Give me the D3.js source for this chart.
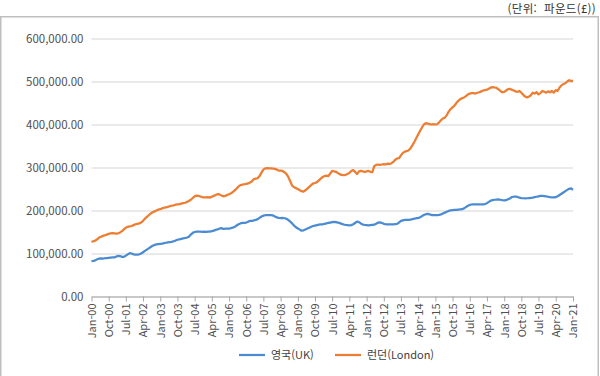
<!DOCTYPE html>
<html lang="ko">
<head>
<meta charset="UTF-8">
<title>영국 vs 런던 평균 주택가격</title>
<script src="https://d3js.org/d3.v7.min.js"></script>
<style>
  body { margin: 0; background: #fff; }
  text { font-family: "Noto Sans CJK KR", "Noto Sans", sans-serif; }
</style>
</head>
<body>
<div id="chart"></div>
<script>
// monthly values, Jan 2000 .. Jan 2021 (thousand pounds)
var ukValues = [
  82.5, 83, 84, 86.5, 88, 88.5, 88, 89, 89.5, 90, 90.5, 91,
  91, 93, 94.5, 94, 92, 92, 95, 98, 101, 100, 98, 97.5,
  97.5, 98, 100, 103, 106, 109, 112, 115, 118, 120, 121, 122,
  122.5, 123, 124, 125, 126, 126.5, 127, 128.5, 130, 132, 133, 134,
  135, 136, 137, 139, 144, 148, 150, 151, 151, 151, 150.5, 151,
  150.5, 151, 151, 152, 153, 155, 156, 158, 159, 157, 158, 158,
  158, 159, 160, 162, 165, 168, 170, 171, 171, 172, 174, 176,
  176, 177, 178, 180, 183, 186, 188, 189, 189.5, 189, 189, 188.5,
  186, 184, 183, 182.5, 183, 182, 181, 178, 174, 170, 165, 161,
  158, 155.5, 153, 154, 156, 158, 160, 162, 164, 165, 166, 167,
  167.5, 168, 169, 170, 171, 172, 173, 173.5, 173, 172, 170.5, 169,
  167.5, 166.5, 166, 165.5, 166, 168, 171, 174, 173, 170, 167.5, 166.5,
  166, 165.5, 166, 166.5, 167, 169, 172, 172.5, 171, 169, 168, 167.5,
  167.5, 168, 168, 168.5, 169, 172, 176, 177, 178, 178.5, 178, 179,
  180, 181, 182, 182.5, 184, 187, 189.5, 191.5, 192, 191, 189.5, 189,
  189, 189.5, 190, 191, 193, 195, 197, 199, 200.5, 201, 201.5, 201.5,
  202, 202.5, 203, 205, 208, 211, 213, 214, 214, 214, 214.5, 214,
  214, 214.5, 215, 217, 220, 223, 224, 225, 225.5, 226, 225, 224,
  223.5, 224, 226, 228, 231, 232, 232.5, 231.5, 230, 229, 228.5, 228,
  228.5, 229, 229.5, 230, 231, 232, 233, 234, 234, 233.5, 233, 232,
  231, 230.5, 230.5, 231, 233, 236, 239, 242, 245, 248, 250.5, 251.5,
  248
];

var londonValues = [
  127, 128.5, 130, 133, 137, 139, 141, 142.5, 144, 145.5, 147, 147.5,
  147, 146, 147, 149, 152, 156, 160, 162, 163, 164, 166, 168,
  169, 170, 172, 176, 181, 185, 189, 193, 196, 198, 200, 202,
  203, 205, 206.5, 207, 208.5, 210, 211, 212, 213.5, 214, 215, 216,
  217, 218, 220, 222, 225, 229, 233, 234.5, 234, 232.5, 231, 230.5,
  230.5, 231, 230, 232, 234, 236, 238, 237.5, 235, 233, 234, 236,
  238, 240, 243, 247, 251, 256, 259, 260, 261, 262, 263, 265,
  268, 273, 274, 275, 280, 288, 295, 298, 298.5, 298, 298, 297.5,
  297, 295, 293, 292.5, 292, 289, 285, 278, 268, 258, 254, 252,
  250, 247, 245, 244, 247, 251, 255, 259, 263, 264, 266, 270,
  274, 278, 280, 281, 280, 286, 292, 291, 290, 287, 284, 283,
  282, 283, 285, 287, 292, 294, 290, 285, 291, 292, 291, 290,
  291, 292, 290, 289, 303, 306, 307, 306, 307, 308, 307, 309,
  308, 310, 313, 318, 321, 322, 328, 334, 337, 338, 340, 345,
  352, 360, 368, 377, 385, 393, 400, 403, 402, 401, 400, 401,
  400, 401, 405, 410, 414, 416, 422, 430, 436, 440, 444, 450,
  455, 459, 461, 463, 466, 470, 472, 473, 473, 472, 474, 475,
  477, 479, 480, 481, 483, 486, 487, 486, 485, 482, 478, 475,
  476, 479, 482, 483, 481, 479, 477, 476, 478, 474, 469, 465,
  463, 465, 468, 474, 472, 475, 470, 473, 478, 476, 474, 477,
  475, 478, 474, 480, 478, 486, 491, 494, 496, 500, 503, 501,
  502
];

var xTickLabels = [
  "Jan-00", "Oct-00", "Jul-01", "Apr-02", "Jan-03", "Oct-03", "Jul-04", "Apr-05",
  "Jan-06", "Oct-06", "Jul-07", "Apr-08", "Jan-09", "Oct-09", "Jul-10", "Apr-11",
  "Jan-12", "Oct-12", "Jul-13", "Apr-14", "Jan-15", "Oct-15", "Jul-16", "Apr-17",
  "Jan-18", "Oct-18", "Jul-19", "Apr-20", "Jan-21"
];
var yTickValues = [0, 100000, 200000, 300000, 400000, 500000, 600000];

var seriesNames = ["영국(UK)", "런던(London)"];
var seriesColors = ["#4a8bd2", "#ed7d31"];
var unitLabel = "(단위:  파운드(£))";

var width = 600, height = 376;
var margin = {top: 38.5, right: 27, bottom: 79.5, left: 91.5};

var parseTick = d3.timeParse("%b-%y");
var start = new Date(2000, 0, 1);
var dates = ukValues.map((d, i) => d3.timeMonth.offset(start, i));

var series = [ukValues, londonValues].map((vals, k) => ({
  name: seriesNames[k],
  color: seriesColors[k],
  values: vals.map((v, i) => ({date: dates[i], value: v * 1000}))
}));

var svg = d3.select("#chart").append("svg")
  .attr("width", width)
  .attr("height", height);

// outer frame
svg.append("rect")
  .attr("x", 0.75).attr("y", 16.75)
  .attr("width", 597.5).attr("height", 360)
  .attr("fill", "none")
  .attr("stroke", "#bfbfbf")
  .attr("stroke-width", 1.5);

svg.append("text")
  .attr("x", 596).attr("y", 13)
  .attr("text-anchor", "end")
  .attr("font-size", 11.5)
  .attr("letter-spacing", 0.3)
  .attr("fill", "#333")
  .style("white-space", "pre")
  .text(unitLabel);

var x = d3.scaleTime()
  .domain(d3.extent(dates))
  .range([margin.left, width - margin.right]);

var y = d3.scaleLinear()
  .domain([0, 600000])
  .range([height - margin.bottom, margin.top]);

// gridlines + y labels
var yAxis = svg.append("g")
  .attr("transform", "translate(" + margin.left + ",0)")
  .call(d3.axisLeft(y)
    .tickValues(yTickValues)
    .tickSize(-(width - margin.right - margin.left))
    .tickPadding(8)
    .tickFormat(d3.format(",.2f")))
  .call(g => g.select(".domain").remove());

yAxis.selectAll(".tick line")
  .attr("stroke", "#e3e3e3")
  .attr("stroke-width", 1.5);
yAxis.selectAll(".tick text")
  .attr("fill", "#505050")
  .attr("font-size", 11.5)
  .attr("font-family", "\"Noto Sans CJK KR\", sans-serif");

// x axis
var xAxis = svg.append("g")
  .attr("transform", "translate(0," + (height - margin.bottom) + ")")
  .call(d3.axisBottom(x)
    .tickValues(xTickLabels.map(parseTick))
    .tickSize(5)
    .tickSizeOuter(0)
    .tickFormat(d3.timeFormat("%b-%y")));

xAxis.select(".domain").attr("stroke", "#a6a6a6");
xAxis.selectAll(".tick line").attr("stroke", "#a6a6a6");
xAxis.selectAll(".tick text")
  .attr("fill", "#505050")
  .attr("font-size", 11)
  .attr("font-family", "\"Noto Sans CJK KR\", sans-serif")
  .attr("transform", "rotate(-90)")
  .attr("text-anchor", "end")
  .attr("x", -7)
  .attr("y", 0)
  .attr("dy", "0.35em");

var line = d3.line()
  .x(d => x(d.date))
  .y(d => y(d.value));

svg.selectAll(".series")
  .data(series)
  .join("path")
  .attr("class", "series")
  .attr("fill", "none")
  .attr("stroke", d => d.color)
  .attr("stroke-width", 2.25)
  .attr("stroke-linejoin", "round")
  .attr("d", d => line(d.values));

// legend
var legendX = [239, 335];
var legend = svg.selectAll(".legend")
  .data(series)
  .join("g")
  .attr("class", "legend")
  .attr("transform", (d, i) => "translate(" + legendX[i] + ",355)");

legend.append("line")
  .attr("x1", 0).attr("x2", 26)
  .attr("stroke", d => d.color)
  .attr("stroke-width", 2.25);

legend.append("text")
  .attr("x", 32)
  .attr("dy", "0.35em")
  .attr("font-size", 11)
  .attr("fill", "#404040")
  .text(d => d.name);
</script>
</body>
</html>
